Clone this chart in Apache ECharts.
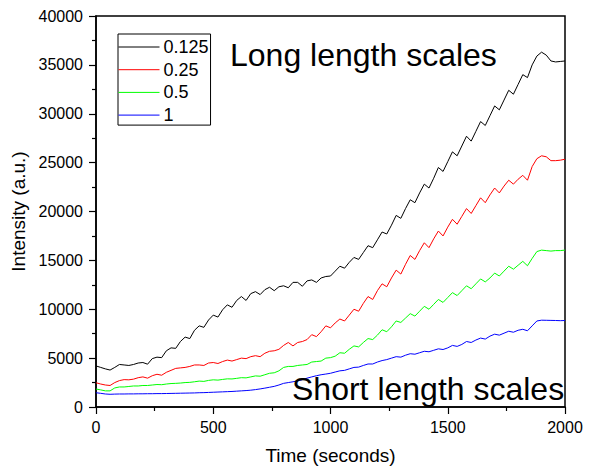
<!DOCTYPE html>
<html>
<head>
<meta charset="utf-8">
<script src="https://cdn.jsdelivr.net/npm/echarts@6/dist/echarts.min.js"></script>
<style>
  html, body { margin: 0; padding: 0; background: #fff; }
  #chart { width: 598px; height: 471px; }
</style>
</head>
<body>
<div id="chart"></div>
<script>
// Time (seconds)
const times = [
  0,20,40,60,80,100,120,140,160,180,
  200,220,240,260,280,300,320,340,360,380,
  400,420,440,460,480,500,520,540,560,580,
  600,620,640,660,680,700,720,740,760,780,
  800,820,840,860,880,900,920,940,960,980,
  1000,1020,1040,1060,1080,1100,1120,1140,1160,1180,
  1200,1220,1240,1260,1280,1300,1320,1340,1360,1380,
  1400,1420,1440,1460,1480,1500,1520,1540,1560,1580,
  1600,1620,1640,1660,1680,1700,1720,1740,1760,1780,
  1800,1820,1840,1860,1880,1900,1920,1940,1960,1980,
  2000
];
const seriesNames = ['0.125', '0.25', '0.5', '1'];
const vals0125 = [
  4200,4050,3900,3780,4050,4350,4300,4250,4350,4500,
  4550,4380,4950,5100,5050,5750,6050,6000,6700,7150,
  7000,7850,8300,8150,8900,9400,9200,9950,10450,10200,
  10900,11300,10900,11600,11800,11500,12000,12250,11900,12300,
  12400,12200,12750,12750,12350,12900,13000,12750,13200,13350,
  13400,13900,14400,14200,14800,15300,15100,15800,16500,16300,
  17100,17900,17700,18600,19600,19300,20300,21200,20900,21900,
  22800,22400,23400,24500,24100,25100,26100,25700,26700,27700,
  27200,28200,29200,28800,29800,30800,30400,31400,32400,32000,
  33000,34000,33700,35000,35900,36300,36000,35400,35300,35350,
  35400
];
const vals025 = [
  2480,2350,2250,2200,2500,2700,2800,2780,2850,3000,
  3080,2950,3200,3350,3250,3550,3750,3950,4000,4050,
  4150,4300,4300,4250,4500,4550,4450,4650,4800,4700,
  4850,5000,4950,5150,5250,5150,5500,5700,5750,5900,
  6300,6600,6250,6600,6700,6900,7400,7200,7700,8300,
  8100,8600,9000,8800,9400,10000,9800,10600,11300,11000,
  11900,12600,12300,13200,14000,13600,14600,15500,15100,16000,
  16800,16300,17200,18000,17500,18400,19200,18700,19500,20300,
  19800,20600,21400,20900,21700,22400,21900,22600,23200,22800,
  23300,23700,23200,24600,25400,25700,25600,25200,25200,25250,
  25350
];
const vals05 = [
  1840,1750,1650,1650,1950,2050,2050,2100,2150,2150,
  2200,2200,2250,2300,2280,2350,2400,2420,2450,2500,
  2520,2580,2650,2620,2720,2780,2750,2820,2880,2870,
  2930,3000,2980,3080,3180,3150,3300,3450,3500,3700,
  4050,4150,4150,4250,4300,4350,4600,4650,4700,5000,
  5050,5200,5550,5500,5900,6250,6150,6600,7000,6900,
  7350,7900,7700,8200,8800,8650,9100,9550,9300,9800,
  10300,10000,10500,11000,10700,11200,11700,11400,11900,12400,
  12100,12600,13100,12800,13200,13700,13400,13900,14400,14100,
  14500,14900,14450,15200,15900,16050,16000,15950,16000,16000,
  16050
];
const vals1 = [
  1460,1400,1330,1300,1320,1330,1330,1340,1340,1350,
  1350,1360,1360,1370,1370,1380,1390,1400,1410,1420,
  1430,1440,1460,1470,1490,1510,1530,1550,1570,1590,
  1620,1650,1680,1720,1780,1850,1930,2020,2110,2250,
  2420,2500,2580,2680,2800,2950,3080,3200,3300,3370,
  3450,3580,3700,3750,3900,4050,4080,4250,4400,4400,
  4600,4750,4850,5000,5150,5100,5300,5450,5400,5550,
  5700,5650,5800,5950,5880,6050,6300,6200,6400,6700,
  6600,6850,7050,6950,7250,7450,7350,7550,7750,7650,
  7850,7950,7800,8300,8800,8880,8870,8860,8850,8830,
  8850
];
const seriesValues = [vals0125, vals025, vals05, vals1];
const seriesColors = ['#000000', '#ff0000', '#00ff00', '#0000ff'];
const xTicks = { min: 0, max: 2000, interval: 500 };
const yTicks = { min: 0, max: 40000, interval: 5000 };
const xTitle = 'Time (seconds)';
const yTitle = 'Intensity (a.u.)';
const topNote = 'Long length scales';
const bottomNote = 'Short length scales';

const FONT = "'Liberation Sans', Arial, sans-serif";
const chart = echarts.init(document.getElementById('chart'), null, { renderer: 'svg' });

const axisCommon = {
  axisLine: { show: true, onZero: false, lineStyle: { color: '#000', width: 1.5 } },
  axisTick: { show: true, inside: false, length: 7, lineStyle: { color: '#000', width: 1.2 } },
  minorTick: { show: true, splitNumber: 2, length: 4, lineStyle: { color: '#000', width: 1.2 } },
  splitLine: { show: false },
  axisLabel: { color: '#000', fontSize: 16, fontFamily: FONT, formatter: (v) => String(v) },
  nameTextStyle: { color: '#000', fontSize: 19, fontFamily: FONT },
  nameLocation: 'middle'
};

const option = {
  animation: false,
  backgroundColor: '#fff',
  grid: { left: 96, right: 33, top: 16, bottom: 64, show: true, borderColor: '#000', borderWidth: 1.5, backgroundColor: 'transparent' },
  legend: {
    orient: 'vertical',
    left: 118, top: 34,
    padding: [4, 2, 1, 0],
    itemWidth: 41, itemHeight: 14, itemGap: 4.7,
    borderColor: '#000', borderWidth: 1,
    backgroundColor: '#fff',
    itemStyle: { opacity: 0 },
    lineStyle: { width: 1 },
    textStyle: { color: '#000', fontSize: 18, lineHeight: 18, fontFamily: FONT, padding: [0, 0, 0, -1] },
    data: seriesNames
  },
  xAxis: Object.assign({}, axisCommon, {
    type: 'value', min: xTicks.min, max: xTicks.max, interval: xTicks.interval,
    name: xTitle, nameGap: 39,
    axisLabel: Object.assign({}, axisCommon.axisLabel, { margin: 12 })
  }),
  yAxis: Object.assign({}, axisCommon, {
    type: 'value', min: yTicks.min, max: yTicks.max, interval: yTicks.interval,
    name: yTitle, nameGap: 55,
    axisLabel: Object.assign({}, axisCommon.axisLabel, { margin: 13 })
  }),
  graphic: [
    { type: 'text', left: 230, top: 39, z: 100,
      style: { text: topNote, fontSize: 32, fontFamily: FONT, fill: '#000' } },
    { type: 'text', left: 292, top: 373, z: 100,
      style: { text: bottomNote, fontSize: 32, fontFamily: FONT, fill: '#000' } }
  ],
  series: seriesNames.map((name, k) => ({
    name: name,
    type: 'line',
    symbol: 'none',
    showSymbol: false,
    color: seriesColors[k],
    lineStyle: { color: seriesColors[k], width: 1 },
    data: times.map((t, i) => [t, seriesValues[k][i]])
  }))
};
chart.setOption(option);
</script>
</body>
</html>
